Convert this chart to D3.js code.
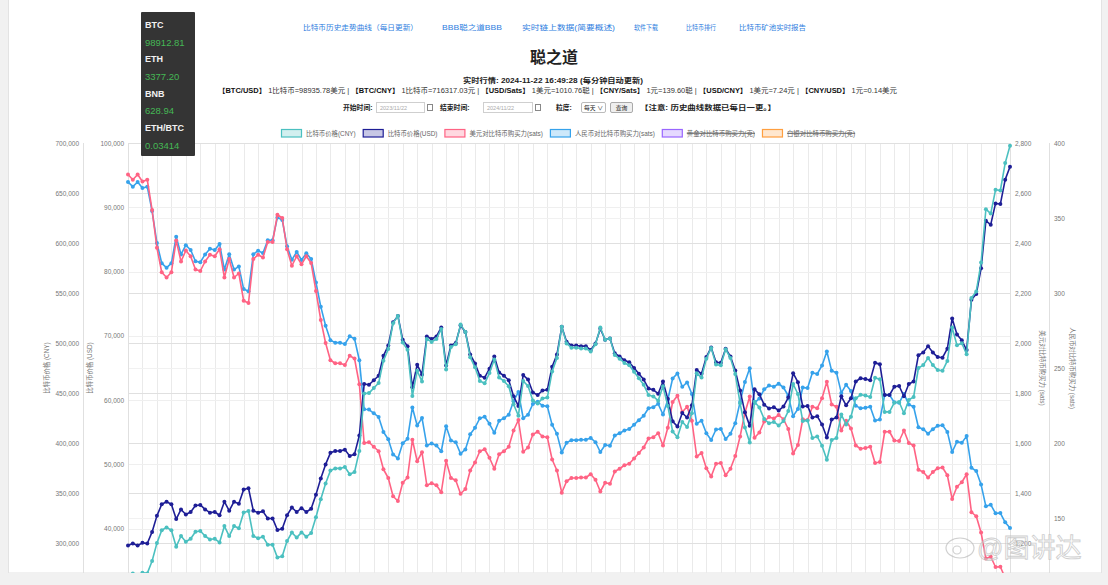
<!DOCTYPE html>
<html>
<head>
<meta charset="utf-8">
<script src="https://cdn.jsdelivr.net/npm/d3@7"></script>
<style>
  html,body{margin:0;padding:0;background:#f1f1f1;}
  svg{display:block;}
</style>
</head>
<body>
<svg id="c" width="1108" height="585"></svg>
<script>
// ---------------- DATA ----------------
const startDate = Date.UTC(2023, 10, 22);   // 2023/11/22
const endDate   = Date.UTC(2024, 10, 22);   // 2024/11/22
const stepDays  = 2;

// 比特币价格(USD)
const btcUsd = [
37400,37700,37400,37800,37700,39500,42000,43800,44200,43800,
41500,43000,42200,42600,43600,43700,43000,42500,42600,42100,
44200,42800,44200,43900,46100,46300,42800,42500,42700,41600,
41600,39800,40000,42100,43300,42600,43200,42600,43100,45300,
47800,50000,51800,52100,52100,52300,51300,51600,54500,62500,
62400,63100,63800,66900,68500,72100,73100,69400,68400,62000,
65500,64000,69900,69500,69900,71300,65400,68500,68900,71600,
70600,67100,65700,63800,63500,64900,66800,64300,63800,63100,
60600,59100,63900,63200,61200,60800,61500,61600,65200,67100,
71400,69100,68500,68500,68400,68400,67800,68800,71100,69400,
69600,67300,66800,66200,65900,65000,64100,63200,61800,61600,
61000,62900,60200,56700,55900,58000,57300,59200,64700,64100,
66700,68200,65900,65800,68000,66800,64600,61500,58100,56000,
61700,60900,59300,58700,58900,58400,59000,60400,64200,62800,
59000,59100,57300,57500,56200,54200,57000,57300,60600,59200,
60300,62900,63400,63300,63100,65800,65600,60800,60800,62100,
62200,60600,62500,62900,67000,67400,68400,67400,66700,66600,
68000,72700,70200,69300,67800,75600,76500,80500,87900,87300,
90600,90500,94300,96300];

// 比特币价格(CNY)
const btcCny = [
267400,269600,267400,270300,269600,282000,299900,312700,315600,312700,
296300,307000,301300,304200,311300,312000,307000,303500,304200,300600,
316900,306900,316900,314800,330500,332000,306900,304700,306200,298300,
298300,285400,286800,301900,310500,305400,310600,306300,309900,325700,
343700,359500,372400,374600,374600,376000,368800,371000,391900,449400,
449900,455000,460000,482300,493900,519800,527100,500400,493200,447000,
472300,461400,504000,501100,504000,514100,473500,495900,498800,518400,
511100,485800,475700,461900,459700,469900,483600,465500,461900,456800,
438700,427300,462000,456900,442500,439600,444600,445400,471400,485100,
516200,499600,495300,495300,494500,494500,491600,498800,515500,503200,
504600,487900,484300,480000,477800,471300,464700,458200,448100,446600,
442300,456700,437100,411600,405800,421100,416000,429800,469700,465400,
484200,495100,478400,477700,493700,485000,469000,439700,415400,400400,
441200,435400,424000,419700,421100,417600,421900,431900,459000,449000,
421900,422600,405100,406500,397300,383200,403000,405100,428400,418500,
426300,444700,448200,447500,446100,465200,463800,431100,431100,440300,
441000,429700,443100,446000,475000,477900,485000,477900,472900,472200,
482100,515400,497700,499700,488800,545100,551600,580400,633800,629400,
653200,652500,679900,697200];

// 美元对比特币购买力(sats)
const usdSats = [
2674,2653,2674,2646,2653,2532,2381,2283,2262,2283,
2410,2326,2370,2347,2294,2288,2326,2353,2347,2375,
2262,2336,2262,2278,2169,2160,2336,2353,2342,2404,
2404,2513,2500,2375,2309,2347,2315,2347,2320,2208,
2092,2000,1931,1919,1919,1912,1949,1938,1835,1600,
1603,1585,1567,1495,1460,1387,1368,1441,1462,1613,
1527,1563,1431,1439,1431,1403,1529,1460,1451,1397,
1416,1490,1522,1567,1575,1541,1497,1555,1567,1585,
1650,1692,1565,1582,1634,1645,1626,1623,1534,1490,
1401,1447,1460,1460,1462,1462,1475,1453,1406,1441,
1437,1486,1497,1511,1517,1538,1560,1582,1618,1623,
1639,1590,1661,1764,1789,1724,1745,1689,1546,1560,
1499,1466,1517,1520,1471,1497,1548,1626,1721,1786,
1621,1642,1686,1704,1698,1712,1695,1656,1558,1592,
1695,1692,1745,1739,1779,1845,1754,1745,1650,1689,
1658,1590,1577,1580,1585,1520,1524,1645,1645,1610,
1608,1650,1600,1590,1493,1484,1462,1484,1499,1502,
1471,1376,1425,1443,1475,1323,1307,1242,1138,1145,
1104,1105,1060,1038];

// 人民币对比特币购买力(sats)
const cnySats = [
374.0,370.9,374.0,370.0,370.9,354.6,333.4,319.8,316.9,319.8,
337.5,325.7,331.9,328.7,321.2,320.5,325.7,329.5,328.7,332.7,
315.6,325.8,315.6,317.7,302.6,301.2,325.8,328.2,326.6,335.2,
335.2,350.4,348.7,331.2,322.1,327.4,322.0,326.5,322.7,307.0,
290.9,278.2,268.5,266.9,266.9,266.0,271.1,269.5,255.2,222.5,
222.3,219.8,217.4,207.3,202.5,192.4,189.7,199.8,202.8,223.7,
211.7,216.7,198.4,199.6,198.4,194.5,211.2,201.7,200.5,192.9,
195.7,205.8,210.2,216.5,217.5,212.8,206.8,214.8,216.5,218.9,
227.9,234.0,216.5,218.9,226.0,227.5,224.9,224.5,212.1,206.1,
193.7,200.2,201.9,201.9,202.2,202.2,203.4,200.5,194.0,198.7,
198.2,205.0,206.5,208.3,209.3,212.2,215.2,218.2,223.2,223.9,
226.1,219.0,228.8,243.0,246.4,237.5,240.4,232.7,212.9,214.9,
206.5,202.0,209.0,209.3,202.6,206.2,213.2,227.4,240.7,249.8,
226.7,229.7,235.8,238.3,237.5,239.5,237.0,231.5,217.9,222.7,
237.0,236.6,246.9,246.0,251.7,261.0,248.1,246.9,233.4,238.9,
234.6,224.9,223.1,223.5,224.2,215.0,215.6,232.0,232.0,227.1,
226.8,232.7,225.7,224.2,210.5,209.2,206.2,209.2,211.5,211.8,
207.4,194.0,200.9,200.1,204.6,183.5,181.3,172.3,157.8,158.9,
153.1,153.3,147.1,143.4];

// axis ticks (the ones visible above the cropped bottom edge)
const cnyTicks  = [700000,650000,600000,550000,500000,450000,400000,350000,300000];
const usdTicks  = [100000,90000,80000,70000,60000,50000,40000];
const usdSatsTicks = [2800,2600,2400,2200,2000,1800,1600,1400,1200];
const cnySatsTicks = [400,350,300,250,200,150];
// axis extents
const cnyDomain = [250000,700000];
const usdDomain = [30000,100000];
const usdSatsDomain = [1000,2800];
const cnySatsDomain = [100,400];

const seriesNames = ["比特币价格(CNY)","比特币价格(USD)","美元对比特币购买力(sats)","人民币对比特币购买力(sats)","黄金对比特币购买力(克)","白银对比特币购买力(克)"];
const seriesHidden = [false,false,false,false,true,true];
const axisTitles = ["比特币价格 (CNY)","比特币价格 (USD)","美元对比特币购买力 (sats)","人民币对比特币购买力 (sats)"];

const navLinks = ["比特币历史走势曲线（每日更新）","BBB聪之道BBB","实时链上数据(简要概述)","软件下载","比特币排行","比特币矿池实时报告"];
const tickerNames  = ["BTC","ETH","BNB","ETH/BTC"];
const tickerValues = ["98912.81","3377.20","628.94","0.03414"];
const quoteTime = "2024-11-22 16:49:28";
const quotes = [
  ["【BTC/USD】","1比特币=98935.78美元"],
  ["【BTC/CNY】","1比特币=716317.03元"],
  ["【USD/Sats】","1美元=1010.76聪"],
  ["【CNY/Sats】","1元=139.60聪"],
  ["【USD/CNY】","1美元=7.24元"],
  ["【CNY/USD】","1元=0.14美元"]
];

// ---------------- STYLE ----------------
const COLORS = ["rgb(75,192,192)","rgb(30,30,150)","rgb(255,99,132)","rgb(54,162,235)","rgb(153,102,255)","rgb(255,159,64)"];
const FONT = "'Liberation Sans','Noto Sans CJK SC',sans-serif";
const P = {l:128, r:1010, t:143, b:593};

const svg = d3.select("#c").style("font-family", FONT);

// page card
svg.append("rect").attr("x",8.5).attr("y",-1).attr("width",1093).attr("height",574)
  .attr("fill","#fff").attr("stroke","#e3e3e3");

// ---------------- HEADER ----------------
const linkX = [303,442,522,634,686,739];
const linkW = [115,60,93,24,30,67];
navLinks.forEach((t,i)=>{
  svg.append("text").attr("x",linkX[i]).attr("y",30).attr("font-size",7.3)
    .attr("fill","#2f80e0").attr("textLength",linkW[i]).attr("lengthAdjust","spacingAndGlyphs").text(t);
});
svg.append("text").attr("x",554).attr("y",63).attr("text-anchor","middle")
  .attr("font-size",16).attr("font-weight","bold").attr("fill","#222").text("聪之道");

const rt = svg.append("text").attr("x",463).attr("y",82.5).attr("font-size",6.8).attr("fill","#222")
  .attr("textLength",180).attr("lengthAdjust","spacingAndGlyphs");
rt.append("tspan").attr("font-weight","bold").text("实时行情: ");
rt.append("tspan").attr("font-weight","bold").text(quoteTime + "  ");
rt.append("tspan").attr("font-weight","bold").text("(每分钟自动更新)");

const ql = svg.append("text").attr("x",218).attr("y",93).attr("font-size",6.6).attr("fill","#333")
  .attr("textLength",679).attr("lengthAdjust","spacingAndGlyphs");
quotes.forEach((q,i)=>{
  ql.append("tspan").attr("font-weight","bold").attr("fill","#111").text(q[0]);
  ql.append("tspan").text(" " + q[1] + (i < quotes.length-1 ? " | " : ""));
});

// controls row
const cy = 110;
const ctl = svg.append("g").attr("font-size",6.8).attr("fill","#222");
ctl.append("text").attr("x",343).attr("y",cy).attr("font-weight","bold").text("开始时间:");
ctl.append("rect").attr("x",376.5).attr("y",102.5).attr("width",48).attr("height",10).attr("fill","#fff").attr("stroke","#cfcfcf");
ctl.append("text").attr("x",380).attr("y",cy-0.5).attr("font-size",5.5).attr("fill","#aaa").text("2023/11/22");
ctl.append("rect").attr("x",427.5).attr("y",104.5).attr("width",5).attr("height",6).attr("fill","none").attr("stroke","#888");
ctl.append("text").attr("x",440).attr("y",cy).attr("font-weight","bold").text("结束时间:");
ctl.append("rect").attr("x",483.5).attr("y",102.5).attr("width",49).attr("height",10).attr("fill","#fff").attr("stroke","#cfcfcf");
ctl.append("text").attr("x",487).attr("y",cy-0.5).attr("font-size",5.5).attr("fill","#aaa").text("2024/11/22");
ctl.append("rect").attr("x",535.5).attr("y",104.5).attr("width",5).attr("height",6).attr("fill","none").attr("stroke","#888");
ctl.append("text").attr("x",556).attr("y",cy).attr("font-weight","bold").text("粒度:");
ctl.append("rect").attr("x",581.5).attr("y",102.5).attr("width",24).attr("height",10).attr("fill","#fff").attr("stroke","#bbb").attr("rx",1.5);
ctl.append("text").attr("x",584).attr("y",cy-0.5).attr("font-size",5.8).text("每天 ∨");
ctl.append("rect").attr("x",610.5).attr("y",102.5).attr("width",22).attr("height",10).attr("fill","#efefef").attr("stroke","#aaa").attr("rx",1.5);
ctl.append("text").attr("x",621.5).attr("y",cy-0.5).attr("font-size",5.8).attr("text-anchor","middle").text("查询");
ctl.append("text").attr("x",640).attr("y",cy).attr("font-weight","bold").attr("textLength",136)
  .attr("lengthAdjust","spacingAndGlyphs").text("【注意: 历史曲线数据已每日一更。】");

// ---------------- LEGEND ----------------
let lx = 281;
const lg = svg.append("g").attr("font-size",6.4).attr("fill","#666");
seriesNames.forEach((name,i)=>{
  const c = d3.color(COLORS[i]);
  const fill = d3.color(COLORS[i]); fill.opacity = 0.25;
  lg.append("rect").attr("x",lx+0.5).attr("y",129.5).attr("width",20).attr("height",7.5)
    .attr("fill",fill.formatRgb()).attr("stroke",c.formatRgb()).attr("stroke-width",1.2);
  const t = lg.append("text").attr("x",lx+25).attr("y",135.6).text(name);
  const w = t.node().getComputedTextLength();
  if (seriesHidden[i]) {
    lg.append("line").attr("x1",lx+25).attr("x2",lx+25+w).attr("y1",133.3).attr("y2",133.3)
      .attr("stroke","#666").attr("stroke-width",1);
  }
  lx += 25 + w + 7;
});

// ---------------- SCALES ----------------
const dates = d3.utcDay.range(new Date(startDate), new Date(endDate + 86400000), stepDays);
const x = d3.scaleUtc().domain([new Date(startDate), new Date(endDate)]).range([P.l, P.r]);
const yCny = d3.scaleLinear().domain(cnyDomain).range([P.b,P.t]);
const yUsd = d3.scaleLinear().domain(usdDomain).range([P.b,P.t]);
const ySu  = d3.scaleLinear().domain(usdSatsDomain).range([P.b,P.t]);
const ySc  = d3.scaleLinear().domain(cnySatsDomain).range([P.b,P.t]);

// ---------------- GRID ----------------
const grid = svg.append("g");
const xGrid = d3.utcDay.range(new Date(startDate), new Date(endDate + 86400000), 6);
grid.selectAll(".vg").data(xGrid).join("line")
  .attr("x1",d=>Math.round(x(d))+0.5).attr("x2",d=>Math.round(x(d))+0.5)
  .attr("y1",P.t).attr("y2",P.b).attr("stroke","#eaeaea").attr("stroke-width",1);
function hgrid(ticks, scale, col){
  grid.selectAll(null).data(ticks).join("line")
    .attr("x1",P.l).attr("x2",P.r).attr("y1",d=>Math.round(scale(d))+0.5).attr("y2",d=>Math.round(scale(d))+0.5)
    .attr("stroke",col).attr("stroke-width",1);
}
hgrid(cnySatsTicks, ySc, "#f1f1f1");
hgrid(usdTicks, yUsd, "#efefef");
hgrid(usdSatsTicks, ySu, "#e9e9e9");
hgrid(cnyTicks, yCny, "#e0e0e0");

// axis lines
[83, P.l, P.r, 1049].forEach(ax=>{
  svg.append("line").attr("x1",ax+0.5).attr("x2",ax+0.5).attr("y1",P.t).attr("y2",P.b)
    .attr("stroke","#e0e0e0");
});

// ---------------- AXES (labels) ----------------
const fmt = d3.format(",");
function axis(scale, ticks, xpos, orient){
  const g = svg.append("g").attr("transform",`translate(${xpos},0)`);
  const ax = (orient==="left" ? d3.axisLeft(scale) : d3.axisRight(scale))
    .tickValues(ticks).tickFormat(fmt).tickSize(0).tickPadding(0);
  g.call(ax);
  g.select(".domain").remove();
  g.selectAll("text").attr("font-size",6.5).attr("fill","#777").attr("font-family",FONT);
  return g;
}
axis(yCny, cnyTicks, 79, "left");
axis(yUsd, usdTicks, 124, "left");
axis(ySu, usdSatsTicks, 1015, "right");
axis(ySc, cnySatsTicks, 1054, "right");

const midY = (P.t+P.b)/2;
function atitle(txt, xpos, rot){
  svg.append("text").attr("transform",`translate(${xpos},${midY}) rotate(${rot})`)
    .attr("text-anchor","middle").attr("font-size",6.4).attr("fill","#777").attr("dy","0.35em").text(txt);
}
atitle(axisTitles[0], 47, -90);
atitle(axisTitles[1], 90, -90);
atitle(axisTitles[2], 1042, 90);
atitle(axisTitles[3], 1072, 90);

// ---------------- SERIES ----------------
svg.append("clipPath").attr("id","plotclip").append("rect")
  .attr("x",P.l-4).attr("y",P.t-4).attr("width",P.r-P.l+8).attr("height",P.b-P.t+4);
const plot = svg.append("g").attr("clip-path","url(#plotclip)");

const series = [
  {vals: btcCny, y: yCny, c: COLORS[0]},
  {vals: btcUsd, y: yUsd, c: COLORS[1]},
  {vals: usdSats, y: ySu, c: COLORS[2]},
  {vals: cnySats, y: ySc, c: COLORS[3]}
];
// draw last dataset first so dataset 0 ends on top
series.slice().reverse().forEach(s=>{
  const pts = dates.map((d,i)=>({d, v:s.vals[i]}));
  const line = d3.line().x(p=>x(p.d)).y(p=>s.y(p.v));
  plot.append("path").datum(pts).attr("d",line).attr("fill","none")
    .attr("stroke",s.c).attr("stroke-width",1.6).attr("stroke-linejoin","round");
  plot.append("g").selectAll("circle").data(pts).join("circle")
    .attr("cx",p=>x(p.d)).attr("cy",p=>s.y(p.v)).attr("r",2).attr("fill",s.c);
});

// ---------------- TICKER BOX ----------------
svg.append("rect").attr("x",141).attr("y",12).attr("width",54).attr("height",144).attr("fill","#343434").attr("rx",1);
tickerNames.forEach((n,i)=>{
  svg.append("text").attr("x",145).attr("y",28+i*34.4).attr("font-size",9).attr("font-weight","bold")
    .attr("fill","#f2f2f2").text(n);
  svg.append("text").attr("x",145).attr("y",45.5+i*34.4).attr("font-size",9.5)
    .attr("fill","#45b855").text(tickerValues[i]);
});

// bottom band (page edge, the picture is cropped here)
svg.append("rect").attr("x",0).attr("y",573).attr("width",1108).attr("height",12).attr("fill","#f1f1f1");

// ---------------- WATERMARK ----------------
const wm = svg.append("g").attr("opacity",0.7);
wm.append("ellipse").attr("cx",960).attr("cy",548).attr("rx",14).attr("ry",10)
  .attr("fill","rgba(255,255,255,0.6)").attr("stroke","#bdbdbd").attr("stroke-width",1.2);
wm.append("circle").attr("cx",957).attr("cy",550).attr("r",4).attr("fill","none").attr("stroke","#bdbdbd").attr("stroke-width",1.2);
wm.append("text").attr("x",977).attr("y",557).attr("font-size",26).attr("fill","rgba(255,255,255,0.55)")
  .attr("stroke","#bcbcbc").attr("stroke-width",0.9).text("@图讲达");
</script>
</body>
</html>
